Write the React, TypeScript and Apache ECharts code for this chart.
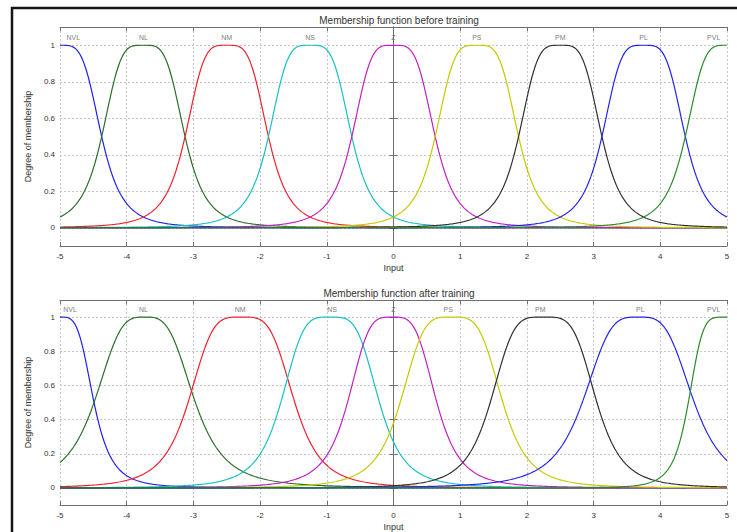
import React, { useEffect, useRef } from "react";
import * as echarts from "echarts";

// Generalised bell membership functions: mu(x) = 1 / (1 + |(x - c) / a|^(2b))
const mfNames = ["NVL", "NL", "NM", "NS", "Z", "PS", "PM", "PL", "PVL"];
const mfColors = ["#1f1ff0", "#2a6e2a", "#f0202e", "#18c0c0", "#c020c0", "#c8c800", "#303030", "#2424f0", "#2a8a2a"];

// before training
const beforeCenters = [-5, -3.75, -2.5, -1.25, 0, 1.25, 2.5, 3.75, 5];
const beforeWidths = [0.625, 0.625, 0.625, 0.625, 0.625, 0.625, 0.625, 0.625, 0.625];
const beforeSlopes = [2, 2, 2, 2, 2, 2, 2, 2, 2];
const beforeLabelX = [-4.8, -3.75, -2.5, -1.25, 0, 1.25, 2.5, 3.75, 4.8];

// after training
const afterCenters = [-5, -3.73, -2.28, -0.95, -0.02, 0.87, 2.25, 3.67, 5];
const afterWidths = [0.51, 0.76, 0.8, 0.74, 0.67, 0.77, 0.8, 0.84, 0.58];
const afterSlopes = [1.9, 1.7, 2, 2, 1.9, 2, 2.1, 1.8, 2.5];
const afterLabelX = [-4.85, -3.75, -2.3, -0.92, 0, 0.82, 2.2, 3.7, 4.8];

const xTicks = { min: -5, max: 5, interval: 1 };
const yRange = { min: -0.1, max: 1.1 };
const labelY = 1.045;

const titles = ["Membership function before training", "Membership function after training"];
const xName = "Input";
const yName = "Degree of membership";

const FONT = "Liberation Sans, Arial, sans-serif";

function sampleX(): number[] {
  const xs: number[] = [];
  for (let i = 0; i <= 500; i++) xs.push(xTicks.min + (i * (xTicks.max - xTicks.min)) / 500);
  return xs;
}

function bell(x: number, a: number, b: number, c: number): number {
  return 1 / (1 + Math.pow(Math.abs((x - c) / a), 2 * b));
}

export default function App() {
  const ref = useRef<HTMLDivElement>(null);

  useEffect(() => {
    if (!ref.current) return;
    const chart = echarts.init(ref.current, undefined, { renderer: "svg" });
    const xs = sampleX();

    const grids = [
      { left: 60, right: 10, top: 27, height: 219 },
      { left: 60, right: 10, top: 300, height: 207 },
    ];

    const sets = [
      { c: beforeCenters, a: beforeWidths, b: beforeSlopes, lx: beforeLabelX },
      { c: afterCenters, a: afterWidths, b: afterSlopes, lx: afterLabelX },
    ];

    const xAxes: any[] = [];
    const yAxes: any[] = [];
    const series: any[] = [];
    const gridLine = { show: true, lineStyle: { color: "#c6c6c6", type: [2, 2], width: 1 } };

    grids.forEach((_, gi) => {
      const common = {
        type: "value",
        gridIndex: gi,
        min: xTicks.min,
        max: xTicks.max,
        interval: xTicks.interval,
        axisLine: { show: true, onZero: false, lineStyle: { color: "#707070", width: 1 } },
        axisTick: { show: true, inside: true, length: 4, lineStyle: { color: "#707070" } },
      };
      xAxes.push({
        ...common,
        position: "bottom",
        name: xName,
        nameLocation: "middle",
        nameGap: 17,
        nameTextStyle: { fontFamily: FONT, fontSize: 9, color: "#333" },
        axisLabel: { fontFamily: FONT, fontSize: 8, color: "#333", margin: 6 },
        splitLine: gridLine,
      });
      xAxes.push({
        ...common,
        position: "top",
        axisLabel: { show: false },
        splitLine: { show: false },
      });

      const yCommon = {
        type: "value",
        gridIndex: gi,
        min: yRange.min,
        max: yRange.max,
        axisLine: { show: true, lineStyle: { color: "#707070", width: 1 } },
        axisTick: { show: true, inside: true, length: 4, lineStyle: { color: "#707070" } },
      };
      yAxes.push({
        ...yCommon,
        position: "left",
        name: yName,
        nameLocation: "middle",
        nameRotate: 90,
        nameGap: 25,
        nameTextStyle: { fontFamily: FONT, fontSize: 9, color: "#333" },
        axisLabel: {
          fontFamily: FONT,
          fontSize: 8,
          color: "#333",
          margin: 5,
          formatter: (v: number) => {
            const r = Math.round(v * 10) / 10;
            if (r < 0 || r > 1) return "";
            return String(r);
          },
        },
        splitLine: gridLine,
      });
      yAxes.push({
        ...yCommon,
        position: "right",
        axisLabel: { show: false },
        splitLine: { show: false },
      });

      const set = sets[gi];
      mfNames.forEach((name, i) => {
        series.push({
          type: "line",
          name: `${name}-${gi}`,
          xAxisIndex: gi * 2,
          yAxisIndex: gi * 2,
          showSymbol: false,
          symbol: "none",
          silent: true,
          lineStyle: { color: mfColors[i], width: 1.2 },
          data: xs.map((x) => [x, bell(x, set.a[i], set.b[i], set.c[i])]),
        });
      });
      series.push({
        type: "scatter",
        xAxisIndex: gi * 2,
        yAxisIndex: gi * 2,
        symbolSize: 0,
        silent: true,
        z: 5,
        label: {
          show: true,
          position: "inside",
          fontFamily: FONT,
          fontSize: 7,
          color: "#555",
          formatter: (p: any) => p.data[2],
        },
        data: mfNames.map((n, i) => [set.lx[i], labelY, n]),
      });
    });

    chart.setOption({
      animation: false,
      backgroundColor: "#ffffff",
      title: [
        {
          text: titles[0],
          left: 394,
          top: 10,
          textAlign: "center",
          textStyle: { fontFamily: FONT, fontSize: 10, fontWeight: "normal", color: "#333" },
        },
        {
          text: titles[1],
          left: 394,
          top: 283,
          textAlign: "center",
          textStyle: { fontFamily: FONT, fontSize: 10, fontWeight: "normal", color: "#333" },
        },
      ],
      grid: grids.map((g) => ({ ...g, show: true, backgroundColor: "#fff", borderWidth: 0 })),
      xAxis: xAxes,
      yAxis: yAxes,
      series,
      graphic: [
        {
          type: "rect",
          silent: true,
          z: 100,
          shape: { x: 12, y: 8, width: 740, height: 540 },
          style: { fill: "none", stroke: "#151515", lineWidth: 2.5 },
        },
      ],
    });

    return () => chart.dispose();
  }, []);

  return (
    <div
      ref={ref}
      style={{ position: "absolute", left: 0, top: 0, width: 737, height: 532 }}
    />
  );
}
